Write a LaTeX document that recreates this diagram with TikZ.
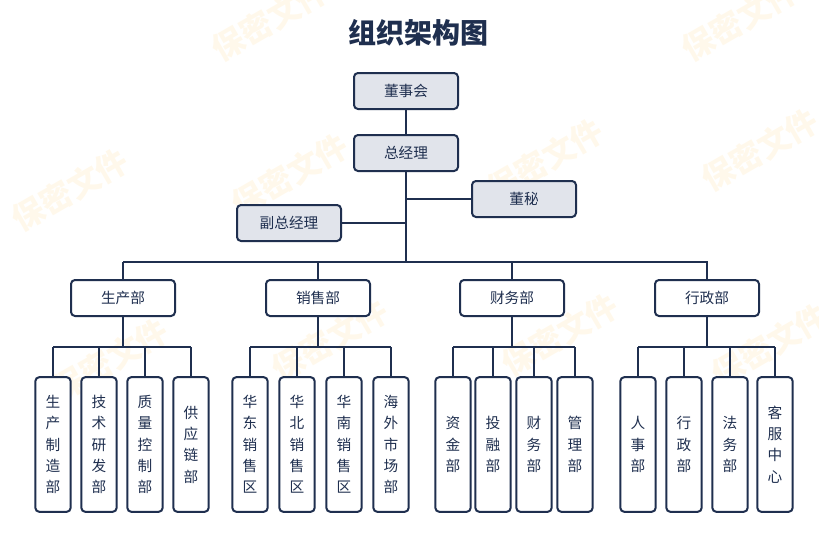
\documentclass[tikz,border=0pt]{standalone}
\usepackage{fontspec}
\newfontfamily\cjk{Noto Sans CJK SC}
\begin{document}
\begin{tikzpicture}[x=0.75pt,y=-0.75pt,
  font=\cjk,
  ln/.style={draw=navy,line width=1.5pt},
  top/.style={draw=navy,line width=1.5pt,rounded corners=3pt,fill=boxgray,minimum width=78pt,minimum height=27pt,font=\cjk\fontsize{11}{13}\selectfont,text=navy},
  dept/.style={top,fill=white},
  sub/.style={draw=navy,line width=1.5pt,rounded corners=3pt,fill=white,minimum width=26.5pt,minimum height=101pt,font=\cjk\fontsize{11}{16}\selectfont,text=navy,align=center},
  wm/.style={text=orange!60!yellow,opacity=0.08,rotate=30,font=\cjk\bfseries\fontsize{24}{24}\selectfont}]
\definecolor{navy}{HTML}{1F2F4F}
\definecolor{boxgray}{HTML}{E1E4EB}
\useasboundingbox (0,0) rectangle (819,546);
\fill[white] (0,0) rectangle (819,546);
\foreach \p/\q in {70/190,290/175,545/160,760/150,110/360,330/340,560/335,770/345,270/20,740/20}
  \node[wm] (w\p\q) at (\p,\q) {保密文件};
\node[font=\cjk\bfseries\fontsize{21}{24}\selectfont,text=navy] (title) at (418,33) {组织架构图};
\node[top] (dsh) at (406,91) {董事会};
\node[top] (zjl) at (406,153) {总经理};
\node[top] (dm) at (524,199) {董秘};
\node[top] (fz) at (289,223) {副总经理};
\coordinate (bus) at (406,262);
\draw[ln] (dsh) -- (zjl);
\draw[ln] (zjl) -- (bus);
\draw[ln] (dm.west) -- (406,199);
\draw[ln] (fz.east) -- (406,223);
\draw[ln] (123,262) -- (708,262);
\foreach \n/\x/\t in {d1/123/生产部,d2/318/销售部,d3/512/财务部,d4/707/行政部}{
  \node[dept] (\n) at (\x,298) {\t};
  \draw[ln] (\x,262) -- (\n.north);}
\foreach \d/\a/\b/\c/\e in {d1/53/99/145/191,d2/250/297/344/391,d3/453/493/534/575,d4/638/684/730/775}{
  \draw[ln] (\d.south) -- (\d.south|-0,347);
  \draw[ln] (\a,347) -- (\e,347);}
\foreach \n/\x/\t in {
  s1/53/{生\\产\\制\\造\\部},s2/99/{技\\术\\研\\发\\部},s3/145/{质\\量\\控\\制\\部},s4/191/{供\\应\\链\\部},
  s5/250/{华\\东\\销\\售\\区},s6/297/{华\\北\\销\\售\\区},s7/344/{华\\南\\销\\售\\区},s8/391/{海\\外\\市\\场\\部},
  s9/453/{资\\金\\部},s10/493/{投\\融\\部},s11/534/{财\\务\\部},s12/575/{管\\理\\部},
  s13/638/{人\\事\\部},s14/684/{行\\政\\部},s15/730/{法\\务\\部},s16/775/{客\\服\\中\\心}}{
  \node[sub] (\n) at (\x,444.5) {\t};
  \draw[ln] (\x,347) -- (\n.north);}
\end{tikzpicture}
\end{document}
